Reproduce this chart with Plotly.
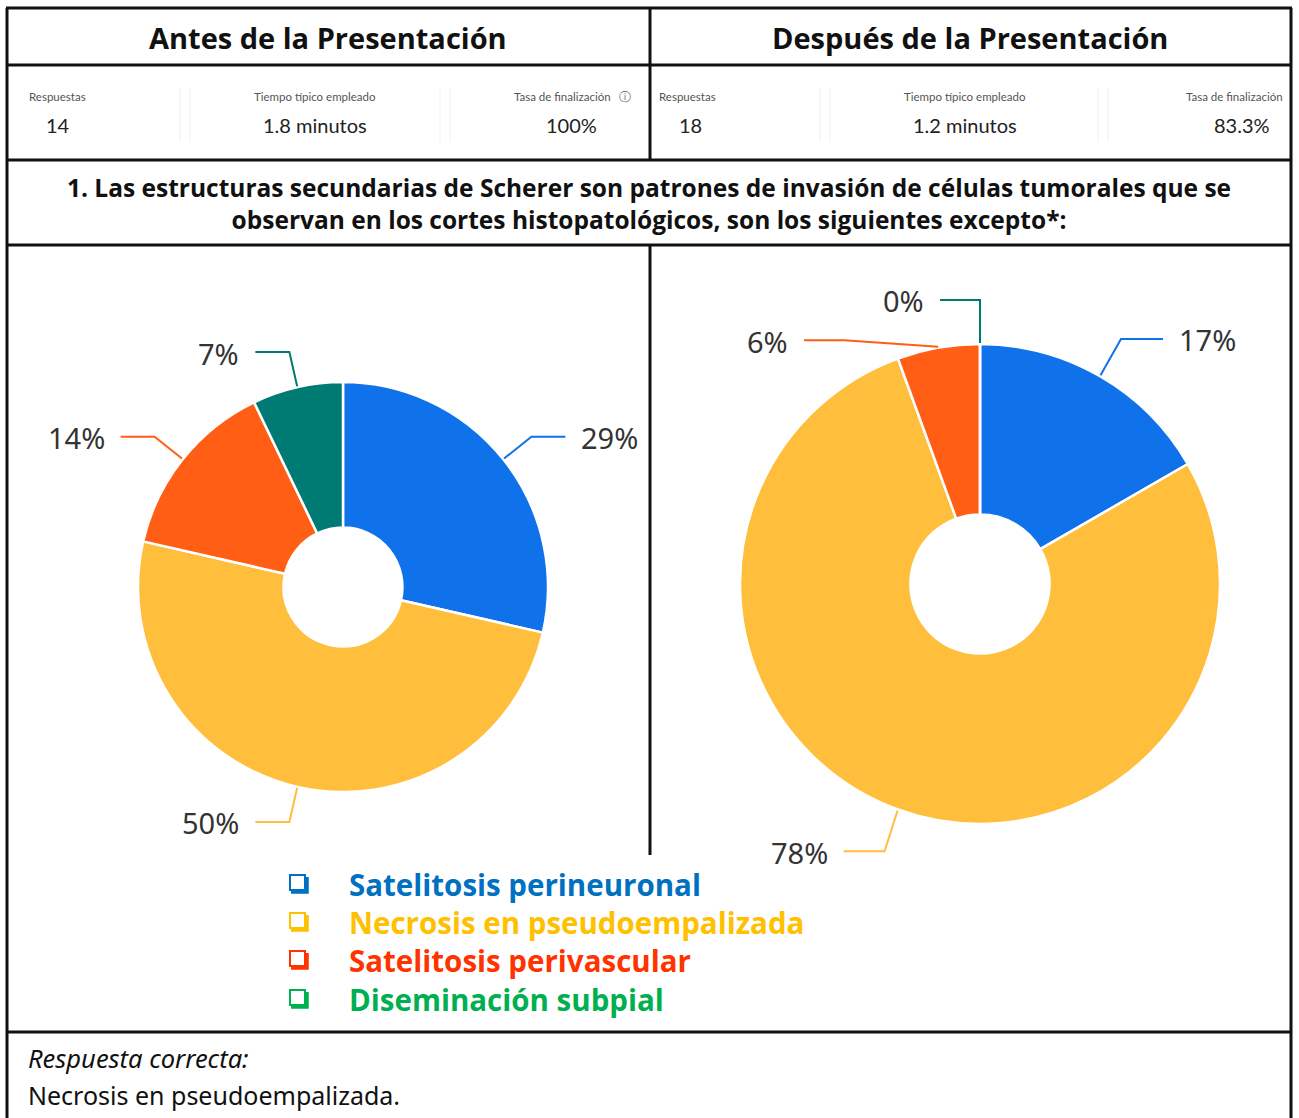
import math
import plotly.graph_objects as go

W, H = 1299, 1118

# ---------------- data ----------------
categories = ["Satelitosis perineuronal", "Necrosis en pseudoempalizada",
              "Satelitosis perivascular", "Diseminación subpial"]
before_counts = [4, 7, 2, 1]
after_counts = [3, 14, 1, 0]
before_pct_labels = ["29%", "50%", "14%", "7%"]
after_pct_labels = ["17%", "78%", "6%", "0%"]

headers = ["Antes de la Presentación", "Después de la Presentación"]
stat_names = ["Respuestas", "Tiempo típico empleado", "Tasa de finalización"]
before_stats = ["14", "1.8 minutos", "100%"]
after_stats = ["18", "1.2 minutos", "83.3%"]

question = ("1. Las estructuras secundarias de Scherer son patrones de invasión de células tumorales que se<br>"
            "observan en los cortes histopatológicos, son los siguientes excepto*:")
answer_title = "Respuesta correcta:"
answer_text = "Necrosis en pseudoempalizada."

slice_colors = ["#1072EA", "#FFBE3B", "#FF5E14", "#007B73"]
legend_colors = ["#0070C0", "#FFC000", "#FF3300", "#00B050"]

# ---------------- helpers ----------------
def px(x):
    return x / W

def py(y):
    return 1 - y / H

fig = go.Figure()
shapes = []
annotations = []

def hline(x0, x1, y, width=3, color="#111"):
    shapes.append(dict(type="line", xref="paper", yref="paper", x0=px(x0), x1=px(x1),
                       y0=py(y), y1=py(y), line=dict(color=color, width=width)))

def vline(x, y0, y1, width=3, color="#111"):
    shapes.append(dict(type="line", xref="paper", yref="paper", x0=px(x), x1=px(x),
                       y0=py(y0), y1=py(y1), line=dict(color=color, width=width)))

def text(x, y, s, size, color="#111", family="Open Sans", xanchor="center", bold=False, italic=False):
    if bold:
        s = "<b>" + s + "</b>"
    if italic:
        s = "<i>" + s + "</i>"
    annotations.append(dict(x=px(x), y=py(y), xref="paper", yref="paper", text=s, showarrow=False,
                            xanchor=xanchor, yanchor="middle",
                            font=dict(size=size, color=color, family=family)))

# ---------------- table frame ----------------
L, R = 7, 1291
hline(L - 1, R + 1, 8)
hline(L, R, 65)
hline(L, R, 160)
hline(L, R, 245)
hline(L, R, 1032)
vline(L, 8, 1118)
vline(R, 8, 1118)
vline(650, 8, 160)
vline(650, 245, 855)

# ---------------- headers ----------------
text(328, 37, headers[0], 29, bold=True)
text(970, 37, headers[1], 29, bold=True)

# ---------------- stats ----------------
lab_col = "#555"
val_col = "#222"
for x in (180, 190, 440, 450, 820, 830, 1098, 1108):
    vline(x, 88, 142, width=1, color="#f1f1f1")

text(27, 97, stat_names[0], 11.5, lab_col, "Lato", "left")
text(44, 125, before_stats[0], 20, val_col, "Lato", "left")
text(315, 97, stat_names[1], 11.5, lab_col, "Lato")
text(315, 125, before_stats[1], 20, val_col, "Lato")
text(613, 97, stat_names[2], 11.5, lab_col, "Lato", "right")
text(625, 97, "ⓘ", 12, "#666", "DejaVu Sans")
text(599, 125, before_stats[2], 20, val_col, "Lato", "right")

text(657, 96, stat_names[0], 11.5, lab_col, "Lato", "left")
text(677, 125, after_stats[0], 20, val_col, "Lato", "left")
text(965, 96, stat_names[1], 11.5, lab_col, "Lato")
text(965, 125, after_stats[1], 20, val_col, "Lato")
text(1285, 96, stat_names[2], 11.5, lab_col, "Lato", "right")
text(1272, 125, after_stats[2], 20, val_col, "Lato", "right")

# ---------------- question ----------------
annotations.append(dict(x=px(649), y=py(204), xref="paper", yref="paper", text="<b>" + question + "</b>",
                        showarrow=False, xanchor="center", yanchor="middle", align="center",
                        font=dict(size=24.5, color="#111", family="Open Sans")))

# ---------------- pies ----------------
HOLE = 0.29
ELBOW_EXTRA = 36
TAIL = 34

def add_pie(values, cx, cy, r, pct_labels, nudges):
    fig.add_trace(go.Pie(
        values=values, labels=categories, sort=False, direction="clockwise", rotation=0,
        hole=HOLE, textinfo="none", hoverinfo="label+percent", showlegend=False,
        marker=dict(colors=slice_colors, line=dict(color="white", width=2.5)),
        domain=dict(x=[px(cx - r), px(cx + r)], y=[py(cy + r), py(cy - r)]),
    ))
    total = sum(values)
    cum = 0
    for i, v in enumerate(values):
        mid = (cum + v / 2) / total * 2 * math.pi
        cum += v
        s, c = math.sin(mid), math.cos(mid)
        ex, ey = cx + (r + 1) * s, cy - (r + 1) * c
        bx, by = cx + (r + ELBOW_EXTRA) * s, cy - (r + ELBOW_EXTRA) * c
        side = 1 if s > 0.001 else -1
        dx, dy, tail = nudges.get(i, (0, 0, TAIL))
        bx += dx
        by += dy
        tx = bx + side * tail
        shapes.append(dict(type="path", xref="paper", yref="paper",
                           path=f"M {px(ex)},{py(ey)} L {px(bx)},{py(by)} L {px(tx)},{py(by)}",
                           line=dict(color=slice_colors[i], width=2)))
        annotations.append(dict(x=px(tx + side * 14), y=py(by + 1), xref="paper", yref="paper",
                                text=pct_labels[i], showarrow=False,
                                xanchor="left" if side > 0 else "right", yanchor="middle",
                                font=dict(size=29, color="#333", family="Noto Sans")))

add_pie(before_counts, 343, 587, 205, before_pct_labels, {})
add_pie(after_counts, 980, 584, 240, after_pct_labels,
        {0: (3, -6, 42), 1: (-1, 8, 41), 2: (-88, 28, 40), 3: (0, -8, 40)})

# ---------------- legend ----------------
leg_y = [884, 922, 960, 999]
for i, cat in enumerate(categories):
    y = leg_y[i]
    col = legend_colors[i]
    shapes.append(dict(type="rect", xref="paper", yref="paper",
                       x0=px(290), x1=px(305), y0=py(y + 6), y1=py(y - 9),
                       line=dict(color=col, width=2), fillcolor="white"))
    shapes.append(dict(type="path", xref="paper", yref="paper",
                       path=f"M {px(291)},{py(y + 8)} L {px(307)},{py(y + 8)} L {px(307)},{py(y - 7)}",
                       line=dict(color=col, width=3.5)))
    text(347, y, cat, 29.5, col, "Open Sans", "left", bold=True)

# ---------------- answer ----------------
text(26, 1058, answer_title, 25.5, "#111", "Noto Sans", "left", italic=True)
text(26, 1095, answer_text, 25, "#111", "Noto Sans", "left")

fig.update_layout(width=W, height=H, autosize=False, margin=dict(l=0, r=0, t=0, b=0),
                  paper_bgcolor="white", plot_bgcolor="white",
                  shapes=shapes, annotations=annotations, showlegend=False)

fig.write_html("out.html", config={"displayModeBar": False},
               post_script="document.body.style.margin='0';")
